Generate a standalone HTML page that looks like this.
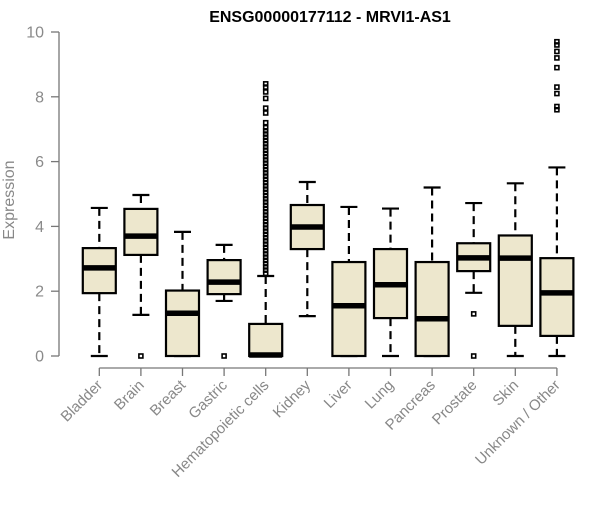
<!DOCTYPE html>
<html><head><meta charset="utf-8"><style>
body{margin:0;background:#fff}
svg text{font-family:"Liberation Sans",Arial,sans-serif}
</style></head><body>
<svg id="chart" width="600" height="500" xmlns="http://www.w3.org/2000/svg">
<text x="330" y="22" text-anchor="middle" font-weight="bold" font-size="16" fill="#000">ENSG00000177112 - MRVI1-AS1</text>
<text transform="translate(14,200) rotate(-90)" text-anchor="middle" font-size="16" fill="#888">Expression</text>
<g id="yaxis"></g>
<g id="xaxis"></g>
<g id="boxes"></g>
</svg>
<script>
const categories=["Bladder","Brain","Breast","Gastric","Hematopoietic cells","Kidney","Liver","Lung","Pancreas","Prostate","Skin","Unknown / Other"];
const whiskerLow=[0,1.27,0,1.70,0,1.23,0,0,0,1.95,0,0];
const q1=[1.94,3.12,0,1.91,0,3.30,0,1.17,0,2.62,0.93,0.62];
const medians=[2.72,3.70,1.32,2.28,0.03,3.98,1.55,2.20,1.15,3.03,3.02,1.95];
const q3=[3.33,4.54,2.02,2.96,0.99,4.66,2.90,3.30,2.90,3.48,3.72,3.02];
const whiskerHigh=[4.57,4.97,3.83,3.43,2.47,5.37,4.60,4.55,5.20,4.72,5.33,5.82];
const outliers=[[],[0],[],[0],
[2.55,2.65,2.75,2.85,2.95,3.05,3.15,3.25,3.35,3.45,3.55,3.65,3.75,3.85,3.95,4.05,4.15,4.25,4.35,4.45,4.55,4.65,4.75,4.85,4.95,5.05,5.15,5.25,5.35,5.45,5.55,5.65,5.75,5.85,5.95,6.05,6.15,6.25,6.35,6.45,6.55,6.65,6.75,6.85,6.95,7.05,7.2,7.5,7.65,7.95,8.15,8.3,8.4],
[],[],[],[],[1.3,0],[],[7.6,7.7,8.1,8.3,8.9,9.2,9.4,9.6,9.7]];
const yTicks=[0,2,4,6,8,10];
const NS="http://www.w3.org/2000/svg";
const y=v=>356-v*32.4;
const x=i=>99.3+i*41.6;
function mk(tag,attrs,parent){const e=document.createElementNS(NS,tag);for(const k in attrs)e.setAttribute(k,attrs[k]);parent.appendChild(e);return e;}
const ya=document.getElementById('yaxis'),xa=document.getElementById('xaxis'),bx=document.getElementById('boxes');
let l=mk('line',{x1:59,x2:59,y1:y(10),y2:y(0),stroke:'#777','stroke-width':1.3},ya);


yTicks.forEach(t=>{
 const tk=mk('line',{x1:51,x2:59,y1:y(t),y2:y(t),stroke:'#777','stroke-width':1.3},ya);
 
 
 const tx=mk('text',{x:44,y:y(t)+5.5,'text-anchor':'end','font-size':16,fill:'#8a8a8a'},ya);
 tx.textContent=t;
 
 
});
l=mk('line',{x1:x(0),x2:x(categories.length-1),y1:368,y2:368,stroke:'#777','stroke-width':1.3},xa);


categories.forEach((c,i)=>{
 const cx=x(i);
 const tk=mk('line',{x1:cx,x2:cx,y1:368,y2:376,stroke:'#777','stroke-width':1.3},xa);
 
 
 const tx=mk('text',{x:cx+4,y:386,'text-anchor':'end','font-size':15,fill:'#888',transform:`rotate(-45 ${cx+4} 386)`},xa);
 tx.textContent=c;
 
 
 const g=mk('g',{},bx);
 
 
 const hw=16.5;
 mk('line',{x1:cx,x2:cx,y1:y(whiskerHigh[i]),y2:y(q3[i]),stroke:'#000','stroke-width':2.2,'stroke-dasharray':'8,5'},g);
 mk('line',{x1:cx,x2:cx,y1:y(q1[i]),y2:y(whiskerLow[i]),stroke:'#000','stroke-width':2.2,'stroke-dasharray':'8,5'},g);
 mk('line',{x1:cx-8.5,x2:cx+8.5,y1:y(whiskerHigh[i]),y2:y(whiskerHigh[i]),stroke:'#000','stroke-width':2.2},g);
 mk('line',{x1:cx-8.5,x2:cx+8.5,y1:y(whiskerLow[i]),y2:y(whiskerLow[i]),stroke:'#000','stroke-width':2.2},g);
 mk('rect',{x:cx-hw,y:y(q3[i]),width:2*hw,height:Math.max(0,y(q1[i])-y(q3[i])),fill:'#ede7cd',stroke:'#000','stroke-width':2.2},g);
 mk('line',{x1:cx-hw,x2:cx+hw,y1:y(medians[i]),y2:y(medians[i]),stroke:'#000','stroke-width':5.5},g);
 outliers[i].forEach(v=>{mk('rect',{x:cx-2,y:y(v)-2,width:4,height:4,fill:'none',stroke:'#000','stroke-width':1.6},g);});
});
</script>
</body></html>
